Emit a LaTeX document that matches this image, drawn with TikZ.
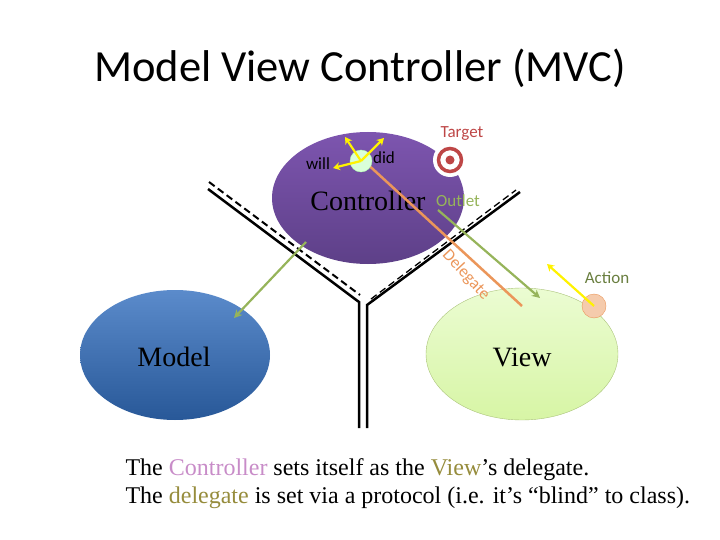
\documentclass[tikz,border=0pt]{standalone}
\usepackage{fontspec}
\setmainfont{Liberation Serif}
\newfontfamily\calfont{Carlito}
\usetikzlibrary{arrows.meta}
\definecolor{ctrl}{RGB}{110,75,160}
\definecolor{ctrlT}{RGB}{125,85,175}
\definecolor{mdl}{RGB}{50,110,190}
\definecolor{viewc}{RGB}{235,252,210}
\definecolor{viewb}{RGB}{215,245,165}
\definecolor{arrG}{RGB}{150,180,90}
\definecolor{arrO}{RGB}{235,150,90}
\definecolor{tgt}{RGB}{190,70,70}
\definecolor{ctrltxt}{RGB}{200,140,200}
\definecolor{deltxt}{RGB}{150,140,60}
\begin{document}
\begin{tikzpicture}[x=1pt,y=-1pt,
  garrow/.style={draw=arrG,line width=2.2pt,-{Stealth[length=8pt,width=8pt]}},
  yarrow/.style={draw=yellow,line width=2.2pt,-{Stealth[length=7pt,width=8pt]}},
  lbl/.style={font=\calfont\fontsize{17}{19}\selectfont},
  big/.style={font=\fontsize{28}{30}\selectfont}]
\useasboundingbox (0,0) rectangle (720,540);
\node[font=\calfont\fontsize{44.5}{48}\selectfont] (title) at (360,68) {Model View Controller (MVC)};
% ellipses
\shade[top color=ctrlT,bottom color=ctrl!85!black] (368,198) ellipse [x radius=96,y radius=66];
\node[big] (ctrl) at (368,201) {Controller};
\shade[top color=mdl!80!white,bottom color=mdl!80!black] (175,355) ellipse [x radius=95,y radius=65];
\node[big] (model) at (174,357) {Model};
\shade[top color=viewc,bottom color=viewb,draw=arrG!80] (522,354) ellipse [x radius=96,y radius=66];
\node[big] (view) at (522,357) {View};
% Y lines
\draw[line width=2.5pt] (208,189) -- (359,302) -- (359,428);
\draw[line width=2.5pt] (367,428) -- (367,305) -- (520,192);
\draw[line width=2pt,dash pattern=on 7pt off 4pt] (209,182) -- (360,295);
\draw[line width=1.3pt,dash pattern=on 7pt off 4pt] (371,299) -- (516,190);
% delegate
\coordinate (dStart) at (363,160);
\coordinate (dEnd) at (522,306);
\draw[arrO,line width=2.5pt] (dStart) -- (dEnd);
\node[text=arrO,rotate=-47,lbl] (del) at (466,275) {Delegate};
% will/did
\node[circle,fill=green!15!white,draw=green!30!white,minimum size=22pt,inner sep=0pt] (wd) at (361,161) {};
\coordinate (wA) at (333,168);
\coordinate (wB) at (345,137);
\coordinate (wC) at (384,138);
\draw[yarrow] (wd.center) -- (wA);
\draw[yarrow] (wd.center) -- (wB);
\draw[yarrow] (wd.center) -- (wC);
\node[lbl] (will) at (318,164) {will};
\node[lbl] (did) at (384,158) {did};
% target
\fill[white] (450,160) circle (17);
\node[circle,draw=tgt,line width=3.5pt,minimum size=23pt,inner sep=0pt] (tgt) at (450,160) {};
\fill[tgt] (450,160) circle (4.5);
\node[text=tgt,lbl] (tlabel) at (462,134) {Target};
\node[text=arrG,lbl] (outlet) at (458,201) {Outlet};
\coordinate (oEnd) at (540,298);
\draw[garrow] (438,210) -- (oEnd);
\coordinate (mS) at (306,242);
\coordinate (mE) at (234,318);
\draw[garrow] (mS) -- (mE);
% action
\coordinate (aE) at (547,264);
\node[circle,fill=arrO!50!white,draw=arrO,minimum size=24pt,inner sep=0pt] (act) at (594,306) {};
\draw[yarrow] (act.center) -- (aE);
\node[text=arrG!70!black,lbl] (alabel) at (607,278) {Action};
% caption
\node[anchor=west,align=left,font=\fontsize{24}{28}\selectfont] (cap) at (122,484)
 {The {\color{ctrltxt}Controller} sets itself as the {\color{deltxt}View}’s delegate.\\
  The {\color{deltxt}delegate} is set via a protocol (i.e. it’s “blind” to class).};
\end{tikzpicture}
\end{document}
